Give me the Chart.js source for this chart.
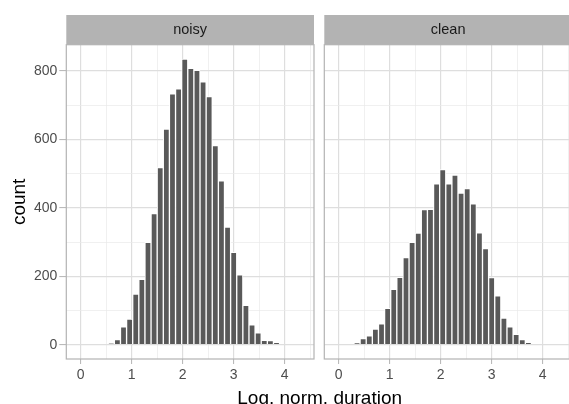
<!DOCTYPE html>
<html>
<head>
<meta charset="utf-8">
<script src="https://cdn.jsdelivr.net/npm/chart.js@4.4.0/dist/chart.umd.min.js"></script>
<style>
  html, body { margin: 0; padding: 0; background: #fff; overflow: hidden; }
  body { width: 569px; height: 404px; position: relative; }
  #noisy { position: absolute; left: 0; top: 0; }
  #clean { position: absolute; left: 318px; top: 0; }
  #xTitle {
    position: absolute; left: 169.7px; width: 300px; top: 388.8px;
    text-align: center; white-space: nowrap;
    font-family: 'Liberation Sans', Arial, sans-serif; font-size: 19px; line-height: 18px; color: #000;
  }
</style>
</head>
<body>
<canvas id="noisy" width="320" height="404"></canvas>
<canvas id="clean" width="256" height="404"></canvas>
<div id="xTitle">Log. norm. duration</div>
<script>
// Histogram bins (centres, log. norm. duration) and counts per facet
const binCenters = [0, 0.12, 0.24, 0.36, 0.48, 0.6, 0.72, 0.84, 0.96, 1.08, 1.2, 1.32, 1.44,
  1.56, 1.68, 1.8, 1.92, 2.04, 2.16, 2.28, 2.4, 2.52, 2.64, 2.76, 2.88, 3.0, 3.12, 3.24,
  3.36, 3.48, 3.6, 3.72, 3.84, 3.96, 4.08, 4.2, 4.32];
const noisyCounts = [0, 0, 0, 0, 0, 3, 15, 52, 75, 148, 191, 299, 383, 518, 630, 733, 748,
  835, 808, 802, 768, 725, 582, 479, 344, 270, 204, 115, 58, 35, 13, 12, 6, 0, 0, 0, 0];
const cleanCounts = [0, 0, 0, 5, 18, 26, 46, 61, 106, 162, 197, 255, 299, 326, 395, 396, 470,
  512, 470, 496, 443, 456, 412, 327, 281, 196, 143, 78, 52, 30, 15, 6, 0, 0, 0, 0, 0];

const xMajorTicks = [0, 1, 2, 3, 4];
const xMinorTicks = [0.5, 1.5, 2.5, 3.5, 4.5];
const yMajorTicks = [0, 200, 400, 600, 800];
const yMinorTicks = [100, 300, 500, 700];

const X_MIN = -0.282, X_MAX = 4.575;
const Y_MIN = -41.75, Y_MAX = 876.75;

Chart.defaults.font.family = "'Liberation Sans', Arial, sans-serif";

// grey strip behind the facet title + panel border on top
const stripPlugin = {
  id: 'strip',
  beforeDraw(chart) {
    const a = chart.chartArea, t = chart.titleBlock;
    const ctx = chart.ctx;
    ctx.save();
    ctx.fillStyle = '#B3B3B3';
    ctx.fillRect(a.left, t.top, a.right - a.left, t.height);
    ctx.restore();
  },
  afterDraw(chart) {
    const a = chart.chartArea, ctx = chart.ctx;
    ctx.save();
    ctx.strokeStyle = '#B3B3B3';
    ctx.lineWidth = 1.2;
    ctx.strokeRect(a.left, a.top, a.right - a.left, a.bottom - a.top);
    ctx.restore();
  }
};

function tickSetter(major, minor) {
  return scale => {
    scale.ticks = major.concat(minor).sort((a, b) => a - b).map(v => ({ value: v }));
  };
}

function gridFor(major, tickLen, drawTicks) {
  const isMajor = c => !!(c.tick && major.includes(c.tick.value));
  return {
    color: c => isMajor(c) ? '#DEDEDE' : '#E9E9E9',
    lineWidth: c => isMajor(c) ? 1.2 : 0.7,
    tickColor: c => isMajor(c) ? '#B3B3B3' : 'rgba(0,0,0,0)',
    tickWidth: 1,
    tickLength: tickLen,
    drawTicks: drawTicks,
    offset: false
  };
}

function makeChart(id, label, counts, isLeft) {
  const yScale = {
    type: 'linear',
    min: Y_MIN,
    max: Y_MAX,
    afterBuildTicks: tickSetter(yMajorTicks, yMinorTicks),
    grid: gridFor(yMajorTicks, 7, isLeft),
    border: { display: false },
    ticks: {
      display: isLeft,
      autoSkip: false,
      color: '#4D4D4D',
      font: { size: 14 },
      padding: 2,
      callback: v => yMajorTicks.includes(v) ? String(v) : ''
    },
    title: {
      display: isLeft,
      text: 'count',
      color: '#000',
      font: { size: 19 },
      padding: { top: 8, bottom: 0 }
    },
    afterFit: s => { s.width = isLeft ? 66.3 : 6.3; }
  };

  return new Chart(document.getElementById(id), {
    type: 'bar',
    data: {
      datasets: [{
        label: label,
        data: binCenters.map((x, i) => ({ x: x, y: counts[i] })),
        backgroundColor: '#595959',
        borderColor: '#FFFFFF',
        borderWidth: 1.0,
        barPercentage: 1,
        categoryPercentage: 1
      }]
    },
    options: {
      responsive: false,
      animation: false,
      layout: { padding: { top: 15, left: 0, right: isLeft ? 6 : 2, bottom: 0 } },
      plugins: {
        legend: { display: false },
        tooltip: { enabled: false },
        title: {
          display: true,
          text: label,
          fullSize: false,
          color: '#1A1A1A',
          font: { size: 14.5, weight: 'normal' },
          padding: { top: 6.15, bottom: 6.15 }
        }
      },
      scales: {
        x: {
          type: 'linear',
          offset: false,
          min: X_MIN,
          max: X_MAX,
          afterBuildTicks: tickSetter(xMajorTicks, xMinorTicks),
          grid: gridFor(xMajorTicks, 5, true),
          border: { display: false },
          ticks: {
            autoSkip: false,
            maxRotation: 0,
            color: '#4D4D4D',
            font: { size: 14 },
            padding: 3,
            callback: v => xMajorTicks.includes(v) ? String(v) : ''
          },
          afterFit: s => { s.height = 45; }
        },
        y: yScale
      }
    },
    plugins: [stripPlugin]
  });
}

makeChart('noisy', 'noisy', noisyCounts, true);
makeChart('clean', 'clean', cleanCounts, false);
</script>
</body>
</html>
